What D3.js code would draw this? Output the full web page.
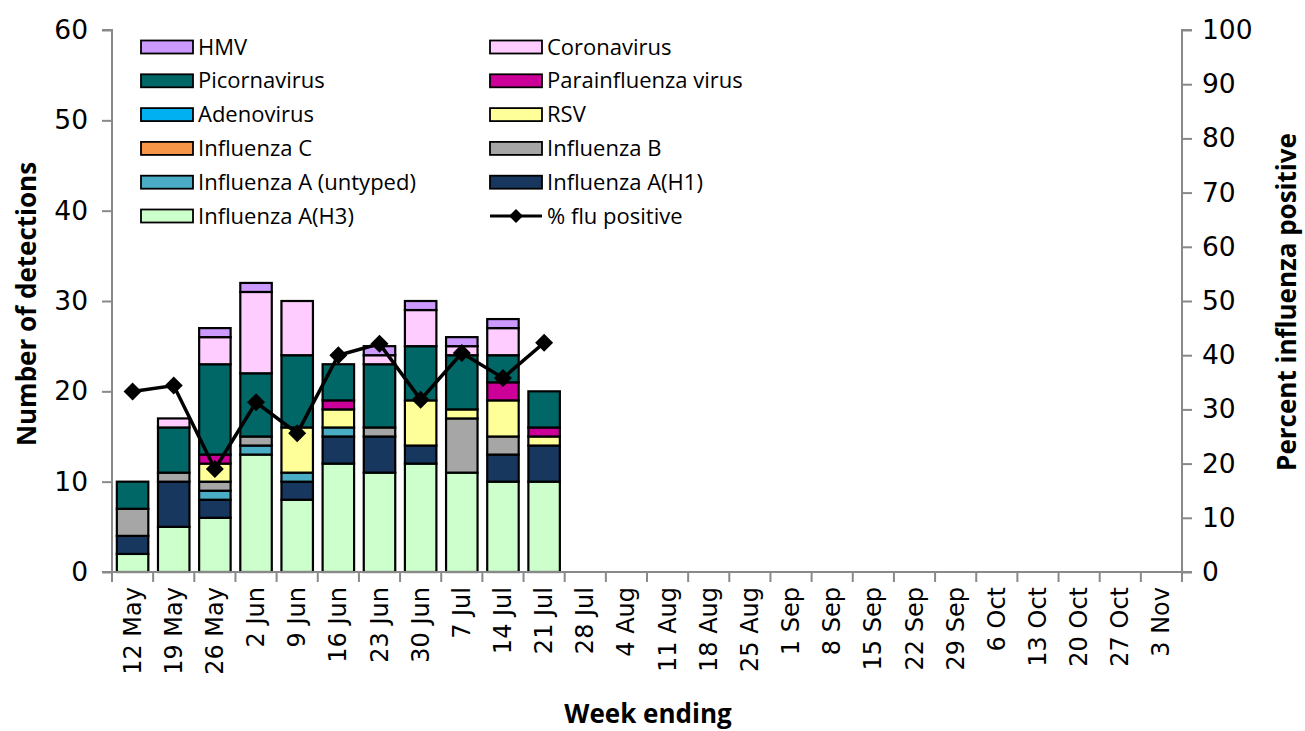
<!DOCTYPE html>
<html><head><meta charset="utf-8">
<script src="https://cdn.jsdelivr.net/npm/d3@7"></script>
<style>body{margin:0;background:#fff}svg{display:block}</style>
</head><body><svg id="c" width="1305" height="731"></svg>
<script>
const weeks = ["12 May","19 May","26 May","2 Jun","9 Jun","16 Jun","23 Jun","30 Jun","7 Jul","14 Jul","21 Jul","28 Jul","4 Aug","11 Aug","18 Aug","25 Aug","1 Sep","8 Sep","15 Sep","22 Sep","29 Sep","6 Oct","13 Oct","20 Oct","27 Oct","3 Nov"];
// series (stack order bottom -> top)
const fluAH3      = [2,5,6,13,8,12,11,12,11,10,10];
const fluAH1      = [2,5,2,0,2,3,4,2,0,3,4];
const fluAUntyped = [0,0,1,1,1,1,0,0,0,0,0];
const fluB        = [3,1,1,1,0,0,1,0,6,2,0];
const fluC        = [0,0,0,0,0,0,0,0,0,0,0];
const rsv         = [0,0,2,0,5,2,0,5,1,4,1];
const adenovirus  = [0,0,0,0,0,0,0,0,0,0,0];
const parainfluenza=[0,0,1,0,0,1,0,0,0,2,1];
const picornavirus= [3,5,10,7,8,4,7,6,6,3,4];
const coronavirus = [0,1,3,9,6,0,1,4,1,3,0];
const hmv         = [0,0,1,1,0,0,1,1,1,1,0];
const pctFluPositive = [33.3,34.4,19.0,31.3,25.6,40.0,42.1,31.8,40.4,35.8,42.3];
const leftTicks = [0,10,20,30,40,50,60];
const rightTicks = [0,10,20,30,40,50,60,70,80,90,100];

const series = [
  {name:"Influenza A(H3)", values:fluAH3, color:"#CCFFCC"},
  {name:"Influenza A(H1)", values:fluAH1, color:"#17375E"},
  {name:"Influenza A (untyped)", values:fluAUntyped, color:"#4BACC6"},
  {name:"Influenza B", values:fluB, color:"#A6A6A6"},
  {name:"Influenza C", values:fluC, color:"#F79646"},
  {name:"RSV", values:rsv, color:"#FFFF99"},
  {name:"Adenovirus", values:adenovirus, color:"#00B0F0"},
  {name:"Parainfluenza virus", values:parainfluenza, color:"#CC0099"},
  {name:"Picornavirus", values:picornavirus, color:"#006666"},
  {name:"Coronavirus", values:coronavirus, color:"#FFCCFF"},
  {name:"HMV", values:hmv, color:"#CC99FF"}
];
const legendOrder = [
  ["HMV","Coronavirus"],
  ["Picornavirus","Parainfluenza virus"],
  ["Adenovirus","RSV"],
  ["Influenza C","Influenza B"],
  ["Influenza A (untyped)","Influenza A(H1)"],
  ["Influenza A(H3)","% flu positive"]
];

const svg = d3.select("#c");
const L=112, R=1182, T=30, B=572;
const x = d3.scaleBand().domain(weeks).range([L,R]).paddingInner(0.235).paddingOuter(0.1175);
const yL = d3.scaleLinear().domain([0,60]).range([B,T]);
const yR = d3.scaleLinear().domain([0,100]).range([B,T]);
const axisColor="#898989";
const numFont="'DejaVu Sans', sans-serif";
const txtFont="'Open Sans', sans-serif";

// stacked data
const rows = fluAH3.map((_,i)=>{const o={week:weeks[i]}; series.forEach(s=>o[s.name]=s.values[i]); return o;});
const stack = d3.stack().keys(series.map(s=>s.name))(rows);
const colorOf = Object.fromEntries(series.map(s=>[s.name,s.color]));

stack.forEach(layer=>{
  svg.append("g").attr("fill",colorOf[layer.key])
    .selectAll("rect").data(layer.filter(d=>d[1]>d[0])).join("rect")
    .attr("x",d=>x(d.data.week)).attr("width",x.bandwidth())
    .attr("y",d=>yL(d[1])).attr("height",d=>yL(d[0])-yL(d[1]))
    .attr("stroke","#000").attr("stroke-width",2.2);
});

// left axis
const gL = svg.append("g").attr("transform",`translate(${L},0)`)
  .call(d3.axisLeft(yL).tickValues(leftTicks).tickSize(10).tickPadding(14));
// right axis
const gR = svg.append("g").attr("transform",`translate(${R},0)`)
  .call(d3.axisRight(yR).tickValues(rightTicks).tickSize(10).tickPadding(10));
[gL,gR].forEach(g=>{
  g.select(".domain").attr("stroke",axisColor).attr("stroke-width",2);
  g.selectAll(".tick line").attr("stroke",axisColor).attr("stroke-width",2);
  g.selectAll(".tick text").attr("font-family",numFont).attr("font-size",26.5).attr("fill","#000");
});
gL.select(".domain").attr("d",`M-10,${T}H0V${B}`);
gR.select(".domain").attr("d",`M10,${T}H0V${B}`);

// bottom axis with ticks between categories
const gB = svg.append("g");
gB.append("line").attr("x1",L-10).attr("x2",R+10).attr("y1",B).attr("y2",B).attr("stroke",axisColor).attr("stroke-width",2);
const bounds = weeks.map(w=>x(w)-x.step()*x.paddingInner()/2).concat([R]);
gB.selectAll("line.tk").data(bounds).join("line").attr("class","tk")
  .attr("x1",d=>d).attr("x2",d=>d).attr("y1",B).attr("y2",B+10).attr("stroke",axisColor).attr("stroke-width",2);
gB.selectAll("text").data(weeks).join("text")
  .attr("transform",d=>`translate(${x(d)+x.bandwidth()/2+8},${B+15}) rotate(-90)`)
  .attr("text-anchor","end").attr("font-family",numFont).attr("font-size",24).text(d=>d);

// line
const line = d3.line().x((d,i)=>x(weeks[i])+x.bandwidth()/2).y(d=>yR(d));
svg.append("path").datum(pctFluPositive).attr("d",line).attr("fill","none").attr("stroke","#000").attr("stroke-width",3.5);
svg.append("g").selectAll("path").data(pctFluPositive).join("path")
  .attr("transform",(d,i)=>`translate(${x(weeks[i])+x.bandwidth()/2},${yR(d)})`)
  .attr("d","M0,-9L9,0L0,9L-9,0Z").attr("fill","#000");

// axis titles
svg.append("text").attr("transform","translate(36,304) rotate(-90)").attr("text-anchor","middle")
  .attr("font-family",txtFont).attr("font-weight","bold").attr("font-size",26).text("Number of detections");
svg.append("text").attr("transform","translate(1296,302) rotate(-90)").attr("text-anchor","middle")
  .attr("font-family",txtFont).attr("font-weight","bold").attr("font-size",26).text("Percent influenza positive");
svg.append("text").attr("x",648).attr("y",723).attr("text-anchor","middle")
  .attr("font-family",txtFont).attr("font-weight","bold").attr("font-size",26).text("Week ending");

// legend
const colX=[141,490], rowY0=47, rowH=33.8;
legendOrder.forEach((row,ri)=>{
  row.forEach((name,ci)=>{
    const g = svg.append("g").attr("transform",`translate(${colX[ci]},${rowY0+ri*rowH})`);
    if(name==="% flu positive"){
      g.append("line").attr("x1",0).attr("x2",52).attr("y1",0).attr("y2",0).attr("stroke","#000").attr("stroke-width",3);
      g.append("path").attr("d","M26,-7L33,0L26,7L19,0Z").attr("fill","#000");
    } else {
      g.append("rect").attr("x",0).attr("y",-6.5).attr("width",52).attr("height",13)
        .attr("fill",colorOf[name]).attr("stroke","#000").attr("stroke-width",1.8);
    }
    g.append("text").attr("x",57).attr("y",7.5).attr("font-family",txtFont).attr("font-size",22).text(name);
  });
});
</script></body></html>
